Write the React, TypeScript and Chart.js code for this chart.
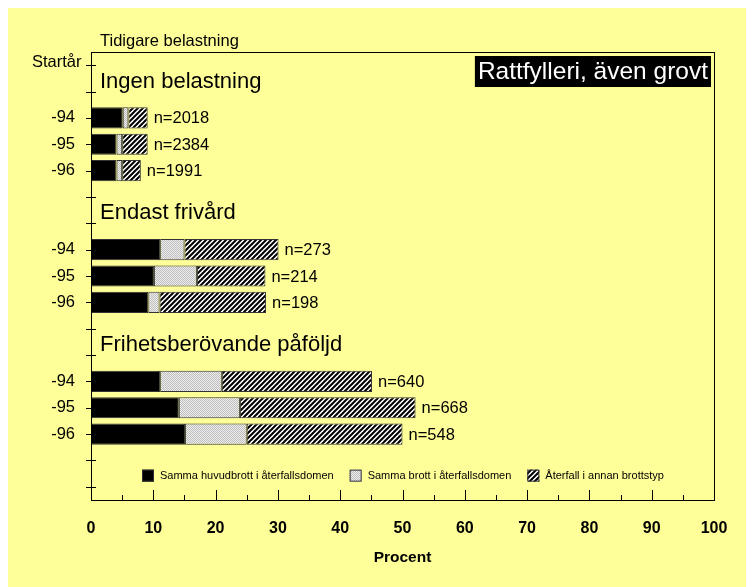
import { useEffect, useRef } from 'react';
import { Chart, registerables } from 'chart.js';
Chart.register(...registerables);

// ---- data ----
const rowLabels = ['', '', '-94', '-95', '-96', '', '', '-94', '-95', '-96', '', '', '-94', '-95', '-96', '', ''];
const sameMain = [null, null, 5.1, 4.1, 4.1, null, null, 11.1, 10.1, 9.2, null, null, 11.1, 14.1, 15.1, null, null];
const sameCrime = [null, null, 0.9, 0.9, 0.9, null, null, 3.9, 6.9, 1.8, null, null, 9.9, 9.8, 9.9, null, null];
const otherCrime = [null, null, 3.1, 4.1, 3.0, null, null, 15.1, 11.0, 17.1, null, null, 24.1, 28.2, 25.0, null, null];
const nLabels = ['', '', 'n=2018', 'n=2384', 'n=1991', '', '', 'n=273', 'n=214', 'n=198', '', '', 'n=640', 'n=668', 'n=548', '', ''];
const groupTitles = ['Ingen belastning', 'Endast frivård', 'Frihetsberövande påföljd'];
const groupTitleRows = [1, 6, 11];
const seriesLabels = ['Samma huvudbrott i återfallsdomen', 'Samma brott i återfallsdomen', 'Återfall i annan brottstyp'];
const chartTitle = 'Rattfylleri, även grovt';
const yAxisCaption = 'Startår';
const topCaption = 'Tidigare belastning';
const xAxisTitle = 'Procent';

const FONT = '"Liberation Sans", Arial, sans-serif';
const BG = '#ffff99';
const W = 746;
const H = 579;

function makeHatch(): CanvasPattern | string {
  const c = document.createElement('canvas');
  c.width = 5; c.height = 5;
  const g = c.getContext('2d');
  if (!g) return '#888';
  g.fillStyle = '#fff';
  g.fillRect(0, 0, 5, 5);
  g.strokeStyle = '#000';
  g.lineWidth = 2;
  for (const o of [0, 5, 10]) {
    g.beginPath();
    g.moveTo(o + 2, -2);
    g.lineTo(o - 7, 7);
    g.stroke();
  }
  return g.createPattern(c, 'repeat') || '#888';
}

function makeStipple(): CanvasPattern | string {
  const c = document.createElement('canvas');
  c.width = 2; c.height = 2;
  const g = c.getContext('2d');
  if (!g) return '#ddd';
  g.fillStyle = '#eeeeee';
  g.fillRect(0, 0, 2, 2);
  g.fillStyle = '#bdbdbd';
  g.fillRect(0, 0, 1, 1);
  g.fillRect(1, 1, 1, 1);
  return g.createPattern(c, 'repeat') || '#ddd';
}

export default function App() {
  const ref = useRef<HTMLCanvasElement | null>(null);

  useEffect(() => {
    document.body.style.overflow = 'hidden';
    const canvas = ref.current;
    if (!canvas) return;
    const hatch = makeHatch();
    const stipple = makeStipple();
    const fills: any[] = ['#000', stipple, hatch];

    const deco = {
      id: 'deco',
      beforeDraw(chart: any) {
        const ctx = chart.ctx;
        ctx.save();
        ctx.fillStyle = BG;
        ctx.fillRect(0, 0, chart.width, chart.height);
        ctx.restore();
      },
      beforeDatasetsDraw(chart: any) {
        const { ctx, chartArea: a, scales } = chart;
        const x = scales.x, y = scales.y;
        ctx.save();
        ctx.strokeStyle = '#000';
        ctx.lineWidth = 1;
        // y tick marks crossing the axis
        for (let i = 0; i < rowLabels.length; i++) {
          const py = Math.round(y.getPixelForValue(i)) + 0.5;
          ctx.beginPath();
          ctx.moveTo(a.left - 5, py);
          ctx.lineTo(a.left + 5, py);
          ctx.stroke();
        }
        // x tick marks inside
        for (let v = 5; v < 100; v += 5) {
          const px = Math.round(x.getPixelForValue(v)) + 0.5;
          const len = v % 10 === 0 ? 10 : 5;
          ctx.beginPath();
          ctx.moveTo(px, a.bottom);
          ctx.lineTo(px, a.bottom - len);
          ctx.stroke();
        }
        ctx.fillStyle = '#000';
        // captions
        ctx.font = `16.5px ${FONT}`;
        ctx.textBaseline = 'alphabetic';
        ctx.textAlign = 'left';
        ctx.fillText(topCaption, a.left + 9, a.top - 6);
        ctx.textAlign = 'right';
        ctx.fillText(yAxisCaption, a.left - 9.5, y.getPixelForValue(0) + 1.5);
        // group titles
        ctx.textAlign = 'left';
        ctx.font = `22px ${FONT}`;
        groupTitles.forEach((t, k) => {
          ctx.fillText(t, a.left + 9, y.getPixelForValue(groupTitleRows[k]) - 4);
        });
        // legend
        const ly = (y.getPixelForValue(15) + y.getPixelForValue(16)) / 2 + 2;
        ctx.font = `11px ${FONT}`;
        ctx.textBaseline = 'middle';
        let lx = a.left + 51;
        seriesLabels.forEach((t, k) => {
          ctx.fillStyle = fills[k];
          ctx.fillRect(lx, ly - 6, 12, 12);
          ctx.strokeStyle = '#333';
          ctx.strokeRect(lx + 0.5, ly - 5.5, 11, 11);
          ctx.fillStyle = '#000';
          ctx.fillText(t, lx + 18, ly + 0.5);
          lx += 18 + ctx.measureText(t).width + 16;
        });
        // title box
        ctx.font = `24.5px ${FONT}`;
        const tw = ctx.measureText(chartTitle).width;
        const bw = tw + 6;
        const bx = a.right - 3 - bw;
        const by = a.top + 4;
        ctx.fillStyle = '#000';
        ctx.fillRect(bx, by, bw, 31);
        ctx.fillStyle = '#fff';
        ctx.textBaseline = 'middle';
        ctx.fillText(chartTitle, bx + 3, by + 16);
        ctx.restore();
      },
      afterDatasetsDraw(chart: any) {
        const { ctx, chartArea: a, scales } = chart;
        const x = scales.x, y = scales.y;
        ctx.save();
        ctx.strokeStyle = '#000';
        ctx.lineWidth = 1;
        ctx.strokeRect(Math.round(a.left) + 0.5, Math.round(a.top) + 0.5, Math.round(a.right - a.left), Math.round(a.bottom - a.top));
        ctx.fillStyle = '#000';
        ctx.font = `16.5px ${FONT}`;
        ctx.textAlign = 'left';
        ctx.textBaseline = 'middle';
        for (let i = 0; i < nLabels.length; i++) {
          if (!nLabels[i]) continue;
          const end = (sameMain[i] || 0) + (sameCrime[i] || 0) + (otherCrime[i] || 0);
          ctx.fillText(nLabels[i], x.getPixelForValue(end) + 6, y.getPixelForValue(i) + 1);
        }
        ctx.restore();
      },
    };

    const mk = (label: string, data: any[], bg: any) => ({
      label,
      data,
      backgroundColor: bg,
      borderColor: '#333',
      borderWidth: 1,
      borderSkipped: false,
      barPercentage: 0.8,
      categoryPercentage: 1.0,
    });

    const chart = new Chart(canvas, {
      type: 'bar',
      data: {
        labels: rowLabels,
        datasets: [
          mk(seriesLabels[0], sameMain, fills[0]),
          mk(seriesLabels[1], sameCrime, fills[1]),
          mk(seriesLabels[2], otherCrime, fills[2]),
        ],
      },
      options: {
        indexAxis: 'y',
        animation: false,
        responsive: false,
        maintainAspectRatio: false,
        devicePixelRatio: 1,
        layout: { padding: { top: 44, right: 40, left: 0, bottom: 0 } },
        plugins: {
          legend: { display: false },
          tooltip: { enabled: false },
        },
        scales: {
          x: {
            stacked: true,
            min: 0,
            max: 100,
            grid: { display: false, drawTicks: false },
            border: { display: false },
            ticks: {
              stepSize: 10,
              padding: 19,
              color: '#000',
              font: { family: FONT, size: 16, weight: 'bold' },
            },
            title: {
              display: true,
              text: xAxisTitle,
              color: '#000',
              font: { family: FONT, size: 15.5, weight: 'bold' },
              padding: { top: 0, bottom: 20 },
            },
            afterFit: (s: any) => { s.height = 87; },
          },
          y: {
            stacked: true,
            grid: { display: false, drawTicks: false },
            border: { display: false },
            ticks: {
              autoSkip: false,
              padding: 16,
              color: '#000',
              font: { family: FONT, size: 16.5 },
            },
            afterFit: (s: any) => { s.width = 83; },
          },
        },
      } as any,
      plugins: [deco],
    });
    return () => chart.destroy();
  }, []);

  return <canvas ref={ref} width={W} height={H} style={{ display: 'block', width: W, height: H }} />;
}
